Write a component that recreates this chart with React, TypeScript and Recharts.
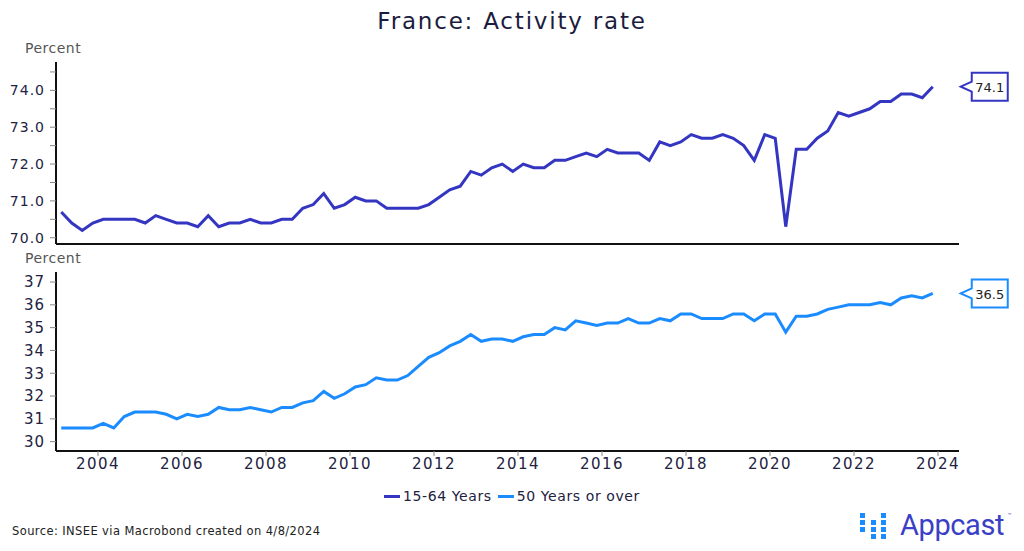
import { LineChart, Line, XAxis, YAxis, ReferenceDot } from 'recharts'

// quarterly observations, 2003 Q1 .. 2023 Q4 (plotted mid-quarter)
const years = [
  2003, 2004, 2005, 2006, 2007, 2008, 2009, 2010, 2011, 2012, 2013,
  2014, 2015, 2016, 2017, 2018, 2019, 2020, 2021, 2022, 2023,
]
const quarterOffsets = [0.125, 0.375, 0.625, 0.875]

const age1564 = [
  70.7, 70.4, 70.2, 70.4,
  70.5, 70.5, 70.5, 70.5,
  70.4, 70.6, 70.5, 70.4,
  70.4, 70.3, 70.6, 70.3,
  70.4, 70.4, 70.5, 70.4,
  70.4, 70.5, 70.5, 70.8,
  70.9, 71.2, 70.8, 70.9,
  71.1, 71.0, 71.0, 70.8,
  70.8, 70.8, 70.8, 70.9,
  71.1, 71.3, 71.4, 71.8,
  71.7, 71.9, 72.0, 71.8,
  72.0, 71.9, 71.9, 72.1,
  72.1, 72.2, 72.3, 72.2,
  72.4, 72.3, 72.3, 72.3,
  72.1, 72.6, 72.5, 72.6,
  72.8, 72.7, 72.7, 72.8,
  72.7, 72.5, 72.1, 72.8,
  72.7, 70.3, 72.4, 72.4,
  72.7, 72.9, 73.4, 73.3,
  73.4, 73.5, 73.7, 73.7,
  73.9, 73.9, 73.8, 74.1,
]

const age50plus = [
  30.6, 30.6, 30.6, 30.6,
  30.8, 30.6, 31.1, 31.3,
  31.3, 31.3, 31.2, 31.0,
  31.2, 31.1, 31.2, 31.5,
  31.4, 31.4, 31.5, 31.4,
  31.3, 31.5, 31.5, 31.7,
  31.8, 32.2, 31.9, 32.1,
  32.4, 32.5, 32.8, 32.7,
  32.7, 32.9, 33.3, 33.7,
  33.9, 34.2, 34.4, 34.7,
  34.4, 34.5, 34.5, 34.4,
  34.6, 34.7, 34.7, 35.0,
  34.9, 35.3, 35.2, 35.1,
  35.2, 35.2, 35.4, 35.2,
  35.2, 35.4, 35.3, 35.6,
  35.6, 35.4, 35.4, 35.4,
  35.6, 35.6, 35.3, 35.6,
  35.6, 34.8, 35.5, 35.5,
  35.6, 35.8, 35.9, 36.0,
  36.0, 36.0, 36.1, 36.0,
  36.3, 36.4, 36.3, 36.5,
]

const xTicks = [2004, 2006, 2008, 2010, 2012, 2014, 2016, 2018, 2020, 2022, 2024]
const topTicks = [70, 70.5, 71, 71.5, 72, 72.5, 73, 73.5, 74, 74.5]
const bottomTicks = [30, 31, 32, 33, 34, 35, 36, 37]

const seriesNames = ['15-64 Years', '50 Years or over']
const seriesColors = ['#3436c2', '#1b8cff']

const data = years.flatMap((y, yi) =>
  quarterOffsets.map((q, qi) => {
    const i = yi * 4 + qi
    return { t: y + q, a: age1564[i], b: age50plus[i] }
  })
)
const last = data[data.length - 1]

const FONT = '"DejaVu Sans", sans-serif'
const INK = '#22223f'

const callout = (color: string, text: string) => (props: any) => {
  const { cx, cy } = props
  if (cx == null || cy == null) return null
  const tip = cx + 28
  const l = tip + 11
  const r = tip + 47
  const d = `M${tip},${cy} L${l},${cy - 5} L${l},${cy - 14} L${r},${cy - 14} L${r},${cy + 14} L${l},${cy + 14} L${l},${cy + 5} Z`
  return (
    <g>
      <path d={d} fill="#fff" stroke={color} strokeWidth={2} />
      <text
        x={(l + r) / 2}
        y={cy + 1}
        textAnchor="middle"
        dominantBaseline="central"
        fontSize={13}
        fontFamily={FONT}
        fill="#222"
      >
        {text}
      </text>
    </g>
  )
}

const tickStyle = { fill: INK, fontSize: 14, fontFamily: FONT, letterSpacing: 1 }

export default function App() {
  return (
    <div
      style={{
        position: 'absolute',
        left: 0,
        top: 0,
        width: 1024,
        height: 551,
        background: '#fff',
        fontFamily: FONT,
        overflow: 'hidden',
      }}
    >
      <div
        style={{
          position: 'absolute',
          top: 6,
          width: 1024,
          textAlign: 'center',
          fontSize: 23,
          letterSpacing: 1.8,
          lineHeight: '30px',
          color: '#1c1c3e',
        }}
      >
        France: Activity rate
      </div>

      <div style={{ position: 'absolute', left: 0, top: 0 }}>
        <LineChart
          width={1024}
          height={260}
          data={data}
          margin={{ top: 62, right: 65, bottom: 15, left: 10 }}
        >
          <XAxis
            dataKey="t"
            type="number"
            domain={[2003, 2024.5]}
            ticks={xTicks}
            tick={false}
            tickLine={false}
            height={1}
            axisLine={{ stroke: '#111', strokeWidth: 2 }}
          />
          <YAxis
            type="number"
            domain={[69.83, 74.77]}
            allowDataOverflow
            ticks={topTicks}
            interval={0}
            tickFormatter={(v: number) => (Number.isInteger(v) ? v.toFixed(1) : '')}
            width={46}
            tickSize={6}
            tickMargin={5}
            tick={tickStyle}
            tickLine={{ stroke: '#888' }}
            axisLine={{ stroke: '#111', strokeWidth: 2 }}
          />
          <Line
            dataKey="a"
            name={seriesNames[0]}
            stroke={seriesColors[0]}
            strokeWidth={3}
            dot={false}
            isAnimationActive={false}
          />
          <ReferenceDot
            x={last.t}
            y={last.a}
            shape={callout(seriesColors[0], last.a.toFixed(1))}
          />
        </LineChart>
      </div>

      <div style={{ position: 'absolute', left: 0, top: 250 }}>
        <LineChart
          width={1024}
          height={240}
          data={data}
          margin={{ top: 22, right: 65, bottom: 9, left: 10 }}
        >
          <XAxis
            dataKey="t"
            type="number"
            domain={[2003, 2024.5]}
            ticks={xTicks}
            interval={0}
            height={30}
            tickSize={5}
            tick={{ ...tickStyle, fontSize: 15, letterSpacing: 1.5 }}
            tickLine={{ stroke: '#888' }}
            axisLine={{ stroke: '#111', strokeWidth: 2 }}
          />
          <YAxis
            type="number"
            domain={[29.59, 37.44]}
            allowDataOverflow
            ticks={bottomTicks}
            interval={0}
            width={46}
            tickSize={6}
            tickMargin={5}
            tick={{ ...tickStyle, fontSize: 15 }}
            tickLine={{ stroke: '#888' }}
            axisLine={{ stroke: '#111', strokeWidth: 2 }}
          />
          <Line
            dataKey="b"
            name={seriesNames[1]}
            stroke={seriesColors[1]}
            strokeWidth={3}
            dot={false}
            isAnimationActive={false}
          />
          <ReferenceDot
            x={last.t}
            y={last.b}
            shape={callout(seriesColors[1], last.b.toFixed(1))}
          />
        </LineChart>
      </div>

      <div style={{ position: 'absolute', left: 25, top: 40, fontSize: 14, letterSpacing: 0.5, lineHeight: '17px', color: '#555' }}>
        Percent
      </div>
      <div style={{ position: 'absolute', left: 25, top: 250, fontSize: 14, letterSpacing: 0.5, lineHeight: '17px', color: '#555' }}>
        Percent
      </div>

      <div
        style={{
          position: 'absolute',
          top: 487,
          width: 1024,
          display: 'flex',
          justifyContent: 'center',
          gap: 6,
          fontSize: 14,
          letterSpacing: 0.6,
          lineHeight: '18px',
          color: INK,
        }}
      >
        {seriesNames.map((n, i) => (
          <span key={n} style={{ display: 'flex', alignItems: 'center' }}>
            <span
              style={{
                display: 'inline-block',
                width: 16,
                height: 3,
                background: seriesColors[i],
                marginRight: 3,
              }}
            />
            {n}
          </span>
        ))}
      </div>

      <div style={{ position: 'absolute', left: 12, top: 524, fontSize: 11.5, letterSpacing: 0.4, lineHeight: '14px', color: '#222' }}>
        Source: INSEE via Macrobond created on 4/8/2024
      </div>

      <svg style={{ position: 'absolute', left: 855, top: 505 }} width={169} height={46}>
        {[
          [5, 8], [5, 15], [5, 22],
          [16, 15], [16, 22], [16, 29],
          [26, 8], [26, 15], [26, 22], [26, 29],
        ].map(([x, y], i) => (
          <rect key={i} x={x} y={y} width={5} height={5} fill="#1b8cff" />
        ))}
        <text x={45} y={30} fontSize={29} letterSpacing={-0.4} fontFamily="Roboto, sans-serif" fill="#3b3fc6">
          Appcast
        </text>
        <text x={153} y={12} fontSize={6} fontFamily="Roboto, sans-serif" fill="#3b3fc6">
          ™
        </text>
      </svg>
    </div>
  )
}
